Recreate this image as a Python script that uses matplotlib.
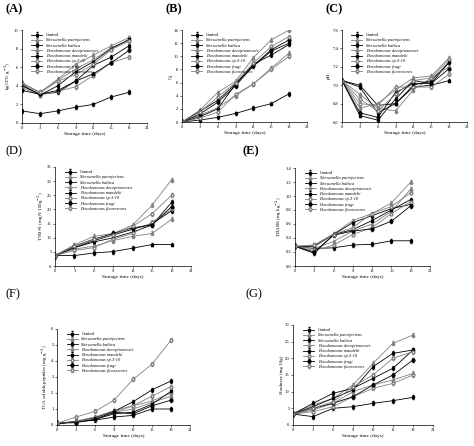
import matplotlib
matplotlib.use("Agg")
import matplotlib.pyplot as plt

plt.rcParams['font.family'] = ['Liberation Serif', 'DejaVu Serif']

days = [0, 3, 6, 9, 12, 15, 18]
names = ["Control", "Shewanella putrefaciens", "Shewanella baltica",
         "Pseudomonas deceptionensis", "Pseudomonas mandelii",
         "Pseudomonas sp.3-10", "Pseudomonas fragi", "Pseudomonas fluorescens"]

A_vals = [[1.3, 1.0, 1.3, 1.7, 2.0, 2.8, 3.3],
          [4.3, 3.3, 4.7, 6.3, 7.3, 8.3, 9.2],
          [4.0, 3.1, 3.3, 4.5, 6.2, 7.1, 8.3],
          [4.2, 3.2, 4.6, 5.8, 6.8, 8.1, 8.9],
          [4.1, 3.0, 4.0, 5.5, 6.6, 8.0, 9.0],
          [3.8, 3.0, 3.4, 3.9, 5.1, 6.5, 7.1],
          [3.5, 3.1, 3.5, 4.5, 5.3, 6.5, 7.8],
          [4.3, 3.3, 4.5, 5.2, 6.3, 7.9, 8.8]]
B_vals = [[0, 0.3, 0.7, 1.3, 2.1, 2.8, 4.3],
          [0, 1.8, 4.5, 6.2, 9.8, 12.5, 14.0],
          [0, 1.6, 3.3, 5.8, 8.5, 10.8, 12.0],
          [0, 1.0, 2.2, 4.0, 5.8, 8.2, 10.5],
          [0, 0.8, 2.0, 5.8, 8.8, 10.2, 11.8],
          [0, 0.6, 1.5, 4.2, 5.8, 8.0, 10.0],
          [0, 1.2, 3.0, 5.5, 8.6, 11.0, 12.5],
          [0, 1.5, 3.8, 6.0, 9.0, 11.5, 13.0]]
C_vals = [[7.05, 7.00, 6.78, 6.80, 6.98, 7.00, 7.05],
          [7.05, 6.75, 6.80, 6.95, 7.08, 7.10, 7.30],
          [7.05, 6.67, 6.62, 6.85, 7.05, 7.02, 7.25],
          [7.05, 6.90, 6.75, 6.72, 6.95, 7.08, 7.20],
          [7.05, 6.98, 6.70, 6.80, 7.00, 7.05, 7.25],
          [7.05, 6.80, 6.78, 6.98, 6.98, 6.98, 7.12],
          [7.05, 6.70, 6.65, 6.92, 7.02, 7.02, 7.18],
          [7.05, 6.85, 6.72, 6.90, 7.05, 7.08, 7.28]]
D_vals = [[3.7, 3.7, 4.6, 5.1, 6.3, 7.6, 7.6],
          [3.7, 7.5, 10.5, 11.5, 14.5, 21.5, 30.5],
          [3.7, 6.5, 8.5, 10.0, 12.0, 14.5, 22.5],
          [3.7, 6.0, 7.0, 9.0, 10.5, 11.5, 16.5],
          [3.7, 6.5, 9.0, 11.0, 13.0, 15.0, 19.5],
          [3.7, 5.5, 6.5, 9.5, 11.5, 15.5, 20.0],
          [3.7, 7.0, 9.5, 11.5, 13.5, 14.5, 21.0],
          [3.7, 7.0, 9.5, 11.0, 14.0, 18.5, 25.0]]
E_vals = [[0.28, 0.25, 0.26, 0.30, 0.31, 0.36, 0.36],
          [0.28, 0.30, 0.46, 0.65, 0.75, 0.90, 1.20],
          [0.28, 0.18, 0.45, 0.62, 0.72, 0.82, 0.88],
          [0.28, 0.25, 0.35, 0.50, 0.60, 0.78, 1.10],
          [0.28, 0.28, 0.45, 0.52, 0.65, 0.80, 0.95],
          [0.28, 0.22, 0.30, 0.45, 0.55, 0.75, 0.92],
          [0.28, 0.20, 0.44, 0.50, 0.53, 0.64, 0.86],
          [0.28, 0.30, 0.45, 0.55, 0.75, 0.85, 1.05]]
F_vals = [[0.1, 0.2, 0.3, 0.5, 0.6, 1.0, 1.0],
          [0.1, 0.25, 0.5, 0.9, 1.2, 1.5, 2.0],
          [0.1, 0.2, 0.45, 0.85, 1.45, 2.2, 2.75],
          [0.1, 0.2, 0.4, 0.8, 1.0, 1.4, 1.8],
          [0.1, 0.2, 0.35, 0.7, 0.8, 1.3, 2.1],
          [0.1, 0.2, 0.4, 0.8, 1.2, 1.8, 2.4],
          [0.1, 0.15, 0.35, 0.8, 0.7, 1.2, 1.55],
          [0.1, 0.5, 0.85, 1.55, 2.85, 3.8, 5.3]]
G_vals = [[3.3, 2.5, 5.0, 5.5, 6.5, 7.3, 8.3],
          [3.3, 6.0, 8.0, 12.0, 18.5, 24.5, 27.0],
          [3.3, 6.5, 9.5, 11.0, 14.0, 17.0, 22.5],
          [3.3, 4.5, 6.5, 10.0, 12.0, 13.5, 15.5],
          [3.3, 5.5, 8.0, 10.5, 17.5, 21.5, 22.5],
          [3.3, 4.0, 5.5, 8.5, 11.0, 12.5, 15.0],
          [3.3, 5.0, 6.5, 8.5, 12.0, 15.0, 19.5],
          [3.3, 5.0, 7.0, 11.5, 15.0, 20.0, 22.0]]

styles = [("s", "black", "black"), ("^", "gray", "gray"), ("s", "black", "black"),
          ("^", "gray", "gray"), ("s", "black", "black"), ("o", "gray", "white"),
          ("o", "black", "black"), ("o", "gray", "white")]

panels = [
    ("(A)", A_vals, (0, 10), [0, 2, 4, 6, 8, 10], "lg(CFU g$^{-1}$)", [22, 30, 147, 123], (5, 3)),
    ("(B)", B_vals, (0, 14), list(range(0, 15, 2)), "Q\u2082", [182, 30, 307, 122], (165, 3)),
    ("(C)", C_vals, (6.6, 7.6), [6.6, 6.8, 7.0, 7.2, 7.4, 7.6], "pH", [342, 30, 467, 122], (325, 3)),
    ("(D)", D_vals, (0, 35), list(range(0, 36, 5)), "TVB-N (mg N 100g$^{-1}$)", [55, 167, 191, 266], (5, 145)),
    ("(E)", E_vals, (0, 1.4), [0, 0.2, 0.4, 0.6, 0.8, 1.0, 1.2, 1.4], "TBARS (mg kg$^{-1}$)", [295, 168, 430, 266], (243, 145)),
    ("(F)", F_vals, (0, 6), list(range(0, 7)), "TCA soluble peptides (mg g$^{-1}$)", [57, 329, 190, 425], (5, 288)),
    ("(G)", G_vals, (0, 30), list(range(0, 31, 5)), "Hardness (mg 10g)", [293, 325, 433, 425], (245, 288)),
]

W, H = 474, 446
fig = plt.figure(figsize=(W / 100, H / 100), dpi=100)
for label, vals, ylim, yt, ylab, (x0, y0, x1, y1), (lx, ly) in panels:
    ax = fig.add_axes([x0 / W, 1 - y1 / H, (x1 - x0) / W, (y1 - y0) / H])
    for name, v, (m, c, fc) in zip(names, vals, styles):
        err = [(ylim[1] - ylim[0]) * 0.02] * len(v)
        ax.errorbar(days, v, yerr=err, marker=m, color=c, mfc=fc, mec=c, ms=2.0,
                    lw=0.6, elinewidth=0.4, capsize=1, label=name)
    ax.set_xlim(0, 21)
    ax.set_ylim(*ylim)
    ax.set_xticks([0, 3, 6, 9, 12, 15, 18, 21])
    ax.set_yticks(yt)
    ax.tick_params(labelsize=3.3, length=1.5, width=0.4, pad=1)
    for s in ["top", "right"]:
        ax.spines[s].set_visible(False)
    for s in ["left", "bottom"]:
        ax.spines[s].set_linewidth(0.5)
    ax.set_xlabel("Storage time (days)", fontsize=3.8, labelpad=1)
    ax.set_ylabel(ylab, fontsize=3.6, labelpad=1)
    leg = ax.legend(loc="upper left", fontsize=3.2, frameon=False, handlelength=2.5,
                    labelspacing=0.25, borderaxespad=0.3, bbox_to_anchor=(0.05, 1.0))
    for i, t in enumerate(leg.get_texts()):
        if i > 0:
            t.set_style("italic")
    fig.text(lx / W, 1 - ly / H, label, fontsize=9,
             fontweight="bold" if label in ("(A)", "(B)", "(C)", "(E)") else "normal",
             va="top", ha="left")

fig.savefig("out.png", dpi=100)
